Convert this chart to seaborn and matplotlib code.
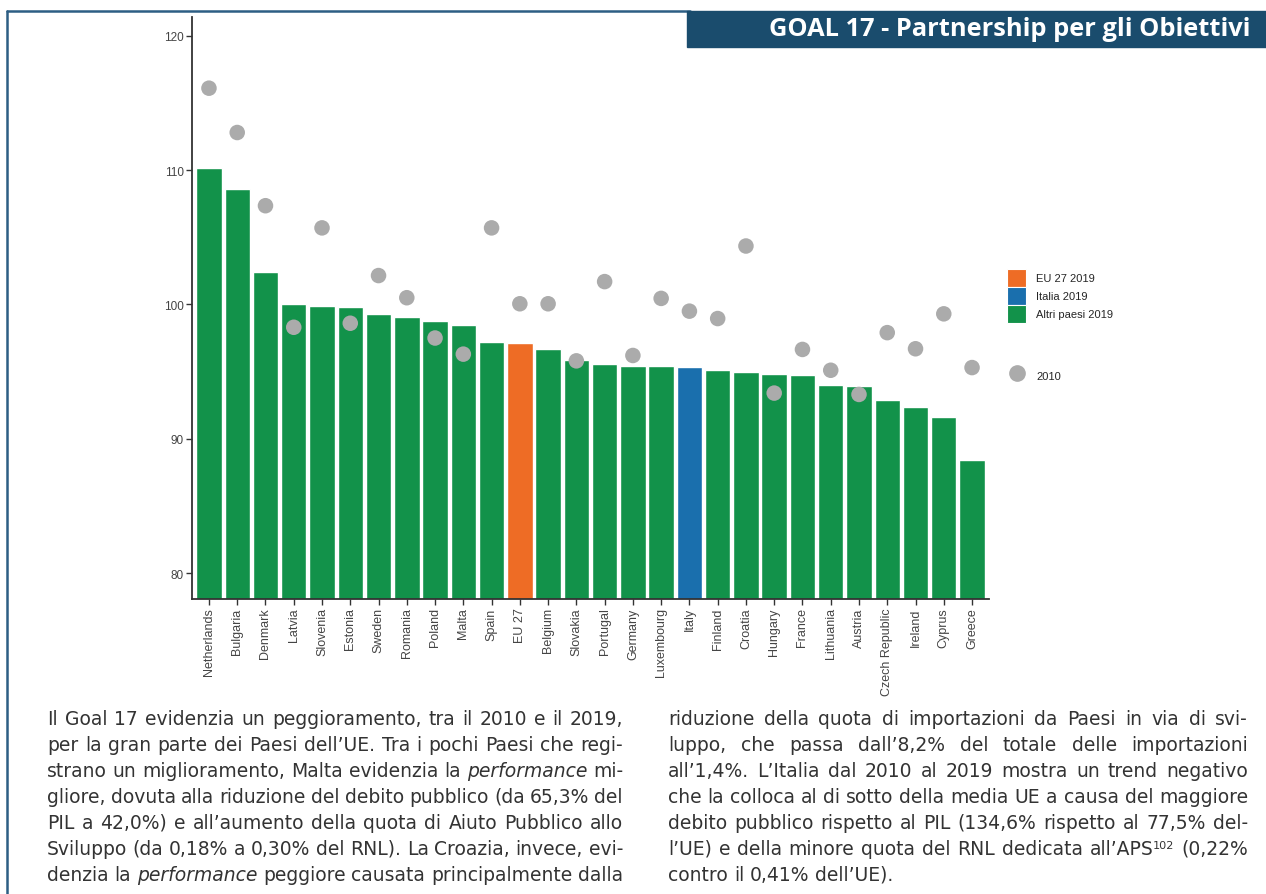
import re
import numpy as np
import pandas as pd
import matplotlib
matplotlib.use("Agg")
import matplotlib.pyplot as plt
import seaborn as sns
from matplotlib.patches import Patch, Rectangle
from matplotlib.lines import Line2D

# dati
paesi = ["Netherlands", "Bulgaria", "Denmark", "Latvia", "Slovenia", "Estonia",
         "Sweden", "Romania", "Poland", "Malta", "Spain", "EU 27", "Belgium",
         "Slovakia", "Portugal", "Germany", "Luxembourg", "Italy", "Finland",
         "Croatia", "Hungary", "France", "Lithuania", "Austria", "Czech Republic",
         "Ireland", "Cyprus", "Greece"]
val_2019 = [110.15, 108.6, 102.45, 100.0, 99.85, 99.8, 99.3, 99.05, 98.75, 98.5,
            97.2, 97.1, 96.7, 95.9, 95.6, 95.4, 95.4, 95.35, 95.1, 95.0, 94.85,
            94.75, 94.0, 93.9, 92.9, 92.4, 91.6, 88.4]
val_2010 = [116.1, 112.8, 107.35, 98.3, 105.7, 98.6, 102.15, 100.5, 97.5, 96.3,
            105.7, 100.05, 100.05, 95.8, 101.7, 96.2, 100.45, 99.5, 98.95, 104.35,
            93.4, 96.65, 95.1, 93.3, 97.9, 96.7, 99.3, 95.3]
gruppi = ["EU 27 2019" if p == "EU 27" else "Italia 2019" if p == "Italy"
          else "Altri paesi 2019" for p in paesi]
colori = {"EU 27 2019": "#EE6C25", "Italia 2019": "#1A6FAD", "Altri paesi 2019": "#12924A"}
grigio = "#ABABAB"

titolo = "GOAL 17 - Partnership per gli Obiettivi"
testo_sx = [
    "Il Goal 17 evidenzia un peggioramento, tra il 2010 e il 2019,",
    "per la gran parte dei Paesi dell’UE. Tra i pochi Paesi che regi-",
    "strano un miglioramento, Malta evidenzia la *performance* mi-",
    "gliore, dovuta alla riduzione del debito pubblico (da 65,3% del",
    "PIL a 42,0%) e all’aumento della quota di Aiuto Pubblico allo",
    "Sviluppo (da 0,18% a 0,30% del RNL). La Croazia, invece, evi-",
    "denzia la *performance* peggiore causata principalmente dalla",
]
testo_dx = [
    "riduzione della quota di importazioni da Paesi in via di svi-",
    "luppo, che passa dall’8,2% del totale delle importazioni",
    "all’1,4%. L’Italia dal 2010 al 2019 mostra un trend negativo",
    "che la colloca al di sotto della media UE a causa del maggiore",
    "debito pubblico rispetto al PIL (134,6% rispetto al 77,5% del-",
    "l’UE) e della minore quota del RNL dedicata all’APS^102^ (0,22%",
    "contro il 0,41% dell’UE).",
]

sns.set_style("ticks")
plt.rcParams['font.family'] = ['Liberation Sans', 'DejaVu Sans']

W, H = 1266, 895
fig = plt.figure(figsize=(W / 100, H / 100), dpi=100)
ax = fig.add_axes([192 / W, 1 - 600 / H, (989 - 192) / W, (600 - 18) / H])

df = pd.DataFrame({"paese": paesi, "v2019": val_2019, "v2010": val_2010, "gruppo": gruppi})
sns.barplot(data=df, x="paese", y="v2019", hue="gruppo", palette=colori, dodge=False,
            width=0.9, saturation=1, legend=False, ax=ax, zorder=2)
sns.scatterplot(x=np.arange(len(paesi)), y=df["v2010"], s=125, color=grigio,
                edgecolor="none", ax=ax, zorder=3)

ax.set_xlim(-0.6, len(paesi) - 0.4)
ax.set_ylim(78.07, 121.4)
ax.set_yticks([80, 90, 100, 110, 120])
ax.set_xlabel("")
ax.set_ylabel("")
sns.despine(ax=ax)
for s in ["left", "bottom"]:
    ax.spines[s].set_color("#333333")
    ax.spines[s].set_linewidth(1.3)
ax.tick_params(axis="both", length=4, width=1, color="#333333", labelsize=9,
               labelcolor="#444444", pad=2)
ax.tick_params(axis="y", labelsize=8.5)
ax.tick_params(axis="x", labelrotation=90)

# legenda
h1 = [Patch(facecolor=colori[k], edgecolor="white", lw=0.8, label=k) for k in colori]
fig.legend(handles=h1, loc="upper left", bbox_to_anchor=(1007 / W, 1 - 270 / H),
           frameon=False, fontsize=8, handlelength=1.75, handleheight=2.1,
           labelspacing=0.0, handletextpad=0.9, borderaxespad=0, borderpad=0)
h2 = [Line2D([], [], marker="o", ls="", color=grigio, markersize=11, label="2010")]
fig.legend(handles=h2, loc="upper left", bbox_to_anchor=(1007 / W, 1 - 368 / H),
           frameon=False, fontsize=8, handlelength=1.75, handleheight=2.1,
           handletextpad=0.9, borderaxespad=0, borderpad=0)

# cornice e intestazione
blu = "#2D5E84"
fig.add_artist(Line2D([7 / W, 7 / W], [0, 1 - 12 / H], color=blu, lw=1.8))
fig.add_artist(Line2D([7 / W, 690 / W], [1 - 12 / H, 1 - 12 / H], color=blu, lw=1.8))
fig.add_artist(Rectangle((687 / W, 1 - 47.5 / H), (W - 687) / W, 35.5 / H,
                         transform=fig.transFigure, color="#1A4C6D", zorder=5))

r = fig.canvas.get_renderer()


def larghezza(t):
    return t.get_window_extent(r).width


# intestazione: dimensione scelta per riempire la stessa larghezza
tt = fig.text(1250 / W, 1 - 30 / H, titolo, family="Open Sans", weight="bold",
              fontsize=10, color="white", ha="right", va="center", zorder=6)
tt.set_fontsize(10 * 482 / larghezza(tt))

# testo giustificato
col_testo = "#333333"
fam = "DejaVu Sans"


def parti_di(parola):
    out = []
    for pz in re.split(r"(\*[^*]+\*|\^[^^]+\^)", parola):
        if not pz:
            continue
        if pz.startswith("*"):
            out.append((pz[1:-1], "i"))
        elif pz.startswith("^"):
            out.append((pz[1:-1], "s"))
        else:
            out.append((pz, "n"))
    return out


prova = fig.text(0, 0, testo_sx[0], family=fam, fontsize=10)
fs = 10 * 566 / larghezza(prova)
prova.set_fontsize(fs)
prova.set_text("n n")
w1 = larghezza(prova)
prova.set_text("nn")
spazio = w1 - larghezza(prova)
prova.remove()


def scrivi(t, stile):
    kw = dict(family=fam, color=col_testo, va="baseline", ha="left")
    if stile == "i":
        return fig.text(0, 0, t, fontsize=fs, style="italic", **kw)
    if stile == "s":
        return fig.text(0, 0, t, fontsize=fs * 0.6, **kw)
    return fig.text(0, 0, t, fontsize=fs, **kw)


def colonna(righe, x0, x1, y0, passo, giustifica_ultima):
    for i, riga in enumerate(righe):
        parole = []
        for parola in riga.split(" "):
            oggetti = [(scrivi(t, s), s) for t, s in parti_di(parola)]
            parole.append((oggetti, sum(larghezza(o) for o, _ in oggetti)))
        tot = sum(w for _, w in parole)
        ultima = i == len(righe) - 1 and not giustifica_ultima
        gap = spazio if ultima else (x1 - x0 - tot) / (len(parole) - 1)
        x = x0
        y = y0 + i * passo
        for oggetti, w in parole:
            xx = x
            for o, s in oggetti:
                yy = y - 6 if s == "s" else y
                o.set_position((xx / W, 1 - yy / H))
                xx += larghezza(o)
            x += w + gap


colonna(testo_sx, 47, 623, 725, 26, True)
colonna(testo_dx, 668, 1248, 725, 26, False)

fig.savefig("out.png", dpi=100)
